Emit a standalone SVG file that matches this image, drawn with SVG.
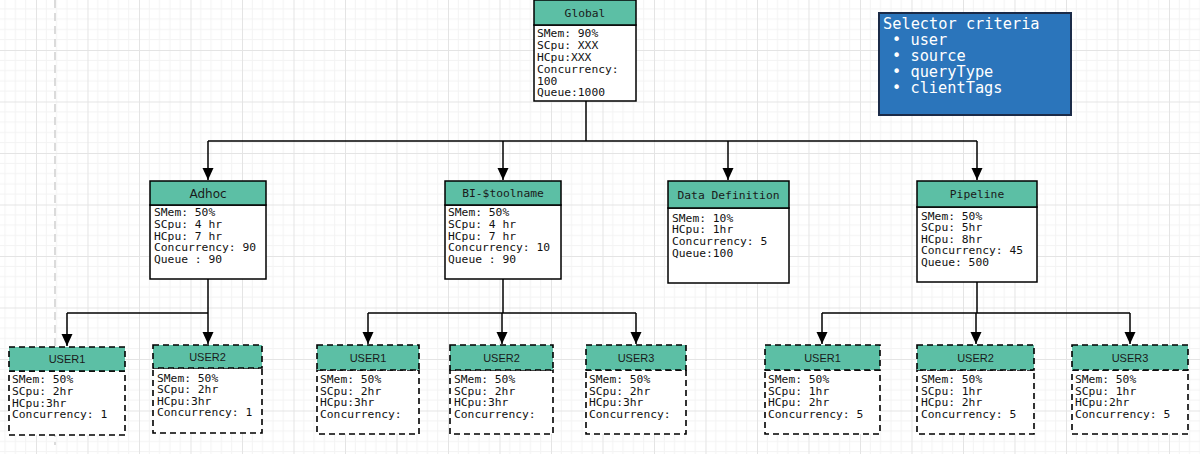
<svg xmlns="http://www.w3.org/2000/svg" width="1200" height="454" viewBox="0 0 1200 454">
  <style>
    .box { fill: #ffffff; stroke: #000000; stroke-width: 1.5; }
    .hdr { fill: #5cbfa5; stroke: #000000; stroke-width: 1.5; }
    .dbox { fill: #ffffff; stroke: #000000; stroke-width: 1.6; stroke-dasharray: 6 4; }
    .dhdr { fill: #5cbfa5; stroke: #000000; stroke-width: 1.6; stroke-dasharray: 6 4; }
    .mono { font-family: "DejaVu Sans Mono", "Liberation Mono", monospace; font-size: 11.3px; fill: #111111; }
    .title { font-family: "DejaVu Sans Mono", "Liberation Mono", monospace; font-size: 11.3px; fill: #1a1a1a; text-anchor: middle; }
    .stitle { font-family: "DejaVu Sans", Verdana, sans-serif; font-size: 12px; fill: #1a1a1a; text-anchor: middle; }
    .utitle { font-family: "Liberation Sans", Arial, sans-serif; font-size: 11px; fill: #1a1a1a; text-anchor: middle; }
    .sel { font-family: "DejaVu Sans Mono", "Liberation Mono", monospace; font-size: 15.3px; fill: #ffffff; }
    .conn { fill: none; stroke: #000000; stroke-width: 1.5; }
  </style>
  <defs>
    <pattern id="grid" x="36" y="50" width="51.5" height="51.5" patternUnits="userSpaceOnUse">
      <path d="M10.3 0V51.5M20.6 0V51.5M30.9 0V51.5M41.2 0V51.5M0 10.3H51.5M0 20.6H51.5M0 30.9H51.5M0 41.2H51.5" stroke="#f3f3f3" stroke-width="1" fill="none"/>
      <path d="M0.5 0V51.5M0 0.5H51.5" stroke="#e4e4e4" stroke-width="1" fill="none"/>
    </pattern>
    <marker id="arrow" markerUnits="userSpaceOnUse" markerWidth="12" markerHeight="12" viewBox="0 0 12 12" refX="12" refY="6" orient="auto">
      <path d="M0 0.5L12 6L0 11.5Z" fill="#000000"/>
    </marker>
  </defs>

  <rect x="0" y="0" width="1200" height="454" fill="#ffffff"/>
  <rect x="0" y="0" width="1200" height="454" fill="url(#grid)"/>
  <line x1="55" y1="0" x2="55" y2="445" stroke="#cfcfcf" stroke-width="1.5" stroke-dasharray="8 5"/>

  <g id="connectors">
    <path class="conn" d="M586 101V141"/>
    <path class="conn" d="M208 141H977"/>
    <path class="conn" d="M208 141V180" marker-end="url(#arrow)"/>
    <path class="conn" d="M503 141V180" marker-end="url(#arrow)"/>
    <path class="conn" d="M728 141V180" marker-end="url(#arrow)"/>
    <path class="conn" d="M977 141V180" marker-end="url(#arrow)"/>

    <path class="conn" d="M208 279V313"/>
    <path class="conn" d="M67 313H208"/>
    <path class="conn" d="M67 313V346" marker-end="url(#arrow)"/>
    <path class="conn" d="M208 313V344" marker-end="url(#arrow)"/>

    <path class="conn" d="M503 279V313"/>
    <path class="conn" d="M368 313H636"/>
    <path class="conn" d="M368 313V344" marker-end="url(#arrow)"/>
    <path class="conn" d="M502 313V344" marker-end="url(#arrow)"/>
    <path class="conn" d="M636 313V344" marker-end="url(#arrow)"/>

    <path class="conn" d="M977 282V313"/>
    <path class="conn" d="M822 313H1130"/>
    <path class="conn" d="M822 313V344" marker-end="url(#arrow)"/>
    <path class="conn" d="M976 313V344" marker-end="url(#arrow)"/>
    <path class="conn" d="M1130 313V344" marker-end="url(#arrow)"/>
  </g>

  <g id="selector">
    <rect x="879" y="13" width="192" height="102" fill="#2b75bb" stroke="#1b2b48" stroke-width="2"/>
    <text class="sel" x="883" y="29">Selector criteria</text>
    <text class="sel" x="892" y="45">• user</text>
    <text class="sel" x="892" y="61">• source</text>
    <text class="sel" x="892" y="77">• queryType</text>
    <text class="sel" x="892" y="93">• clientTags</text>
  </g>

  <g id="global">
    <rect class="box" x="534" y="25" width="102" height="76"/>
    <rect class="hdr" x="534" y="0" width="102" height="25"/>
    <text class="title" x="585" y="17">Global</text>
    <text class="mono" x="537" y="37">SMem: 90%</text>
    <text class="mono" x="537" y="49">SCpu: XXX</text>
    <text class="mono" x="537" y="61">HCpu:XXX</text>
    <text class="mono" x="537" y="73">Concurrency:</text>
    <text class="mono" x="537" y="84.5">100</text>
    <text class="mono" x="537" y="96">Queue:1000</text>
  </g>

  <g id="adhoc">
    <rect class="box" x="150" y="205" width="116" height="74"/>
    <rect class="hdr" x="150" y="181" width="116" height="24"/>
    <text class="stitle" x="208" y="197.5">Adhoc</text>
    <text class="mono" x="154" y="216">SMem: 50%</text>
    <text class="mono" x="154" y="228">SCpu: 4 hr</text>
    <text class="mono" x="154" y="239.5">HCpu: 7 hr</text>
    <text class="mono" x="154" y="251">Concurrency: 90</text>
    <text class="mono" x="154" y="262.5">Queue : 90</text>
  </g>

  <g id="bi">
    <rect class="box" x="445" y="205" width="116" height="74"/>
    <rect class="hdr" x="445" y="181" width="116" height="24"/>
    <text class="title" x="503" y="197">BI-$toolname</text>
    <text class="mono" x="448" y="216">SMem: 50%</text>
    <text class="mono" x="448" y="228">SCpu: 4 hr</text>
    <text class="mono" x="448" y="239.5">HCpu: 7 hr</text>
    <text class="mono" x="448" y="251">Concurrency: 10</text>
    <text class="mono" x="448" y="262.5">Queue : 90</text>
  </g>

  <g id="datadef">
    <rect class="box" x="668" y="208" width="121" height="75"/>
    <rect class="hdr" x="668" y="181" width="121" height="27"/>
    <text class="title" x="728.5" y="199">Data Definition</text>
    <text class="mono" x="672" y="221.5">SMem: 10%</text>
    <text class="mono" x="672" y="233">HCpu: 1hr</text>
    <text class="mono" x="672" y="245">Concurrency: 5</text>
    <text class="mono" x="672" y="256.5">Queue:100</text>
  </g>

  <g id="pipeline">
    <rect class="box" x="917" y="207" width="120" height="75"/>
    <rect class="hdr" x="917" y="181" width="120" height="26"/>
    <text class="title" x="977" y="198">Pipeline</text>
    <text class="mono" x="921" y="219.5">SMem: 50%</text>
    <text class="mono" x="921" y="231">SCpu: 5hr</text>
    <text class="mono" x="921" y="242.5">HCpu: 8hr</text>
    <text class="mono" x="921" y="254">Concurrency: 45</text>
    <text class="mono" x="921" y="265.5">Queue: 500</text>
  </g>

  <g id="adhoc-user1">
    <rect class="dbox" x="9" y="371" width="116" height="64"/>
    <rect class="dhdr" x="9" y="347" width="116" height="24"/>
    <text class="utitle" x="67" y="363">USER1</text>
    <text class="mono" x="12" y="383">SMem: 50%</text>
    <text class="mono" x="12" y="395">SCpu: 2hr</text>
    <text class="mono" x="12" y="406.5">HCpu:3hr</text>
    <text class="mono" x="12" y="418">Concurrency: 1</text>
  </g>

  <g id="adhoc-user2">
    <rect class="dbox" x="153" y="368" width="109" height="65"/>
    <rect class="dhdr" x="153" y="345" width="109" height="23"/>
    <text class="utitle" x="207.5" y="360.5">USER2</text>
    <text class="mono" x="157" y="381.5">SMem: 50%</text>
    <text class="mono" x="157" y="393">SCpu: 2hr</text>
    <text class="mono" x="157" y="404.5">HCpu:3hr</text>
    <text class="mono" x="157" y="416">Concurrency: 1</text>
  </g>

  <g id="bi-user1">
    <rect class="dbox" x="317" y="370" width="102" height="64"/>
    <rect class="dhdr" x="317" y="345" width="102" height="25"/>
    <text class="utitle" x="368" y="361.5">USER1</text>
    <text class="mono" x="320" y="383">SMem: 50%</text>
    <text class="mono" x="320" y="394.5">SCpu: 2hr</text>
    <text class="mono" x="320" y="406">HCpu:3hr</text>
    <text class="mono" x="320" y="417.5">Concurrency:</text>
  </g>

  <g id="bi-user2">
    <rect class="dbox" x="450" y="370" width="103" height="64"/>
    <rect class="dhdr" x="450" y="345" width="103" height="25"/>
    <text class="utitle" x="501.5" y="361.5">USER2</text>
    <text class="mono" x="454" y="383">SMem: 50%</text>
    <text class="mono" x="454" y="394.5">SCpu: 2hr</text>
    <text class="mono" x="454" y="406">HCpu:3hr</text>
    <text class="mono" x="454" y="417.5">Concurrency:</text>
  </g>

  <g id="bi-user3">
    <rect class="dbox" x="586" y="370" width="100" height="64"/>
    <rect class="dhdr" x="586" y="345" width="100" height="25"/>
    <text class="utitle" x="636" y="361.5">USER3</text>
    <text class="mono" x="589" y="383">SMem: 50%</text>
    <text class="mono" x="589" y="394.5">SCpu: 2hr</text>
    <text class="mono" x="589" y="406">HCpu:3hr</text>
    <text class="mono" x="589" y="417.5">Concurrency:</text>
  </g>

  <g id="pipe-user1">
    <rect class="dbox" x="765" y="370" width="115" height="64"/>
    <rect class="dhdr" x="765" y="345" width="115" height="25"/>
    <text class="utitle" x="822.5" y="361.5">USER1</text>
    <text class="mono" x="768" y="383">SMem: 50%</text>
    <text class="mono" x="768" y="394.5">SCpu: 1hr</text>
    <text class="mono" x="768" y="406">HCpu: 2hr</text>
    <text class="mono" x="768" y="417.5">Concurrency: 5</text>
  </g>

  <g id="pipe-user2">
    <rect class="dbox" x="917" y="370" width="117" height="64"/>
    <rect class="dhdr" x="917" y="345" width="117" height="25"/>
    <text class="utitle" x="975.5" y="361.5">USER2</text>
    <text class="mono" x="921" y="383">SMem: 50%</text>
    <text class="mono" x="921" y="394.5">SCpu: 1hr</text>
    <text class="mono" x="921" y="406">HCpu: 2hr</text>
    <text class="mono" x="921" y="417.5">Concurrency: 5</text>
  </g>

  <g id="pipe-user3">
    <rect class="dbox" x="1072" y="370" width="116" height="64"/>
    <rect class="dhdr" x="1072" y="345" width="116" height="25"/>
    <text class="utitle" x="1130" y="361.5">USER3</text>
    <text class="mono" x="1075" y="383">SMem: 50%</text>
    <text class="mono" x="1075" y="394.5">SCpu: 1hr</text>
    <text class="mono" x="1075" y="406">HCpu:2hr</text>
    <text class="mono" x="1075" y="417.5">Concurrency: 5</text>
  </g>
</svg>
